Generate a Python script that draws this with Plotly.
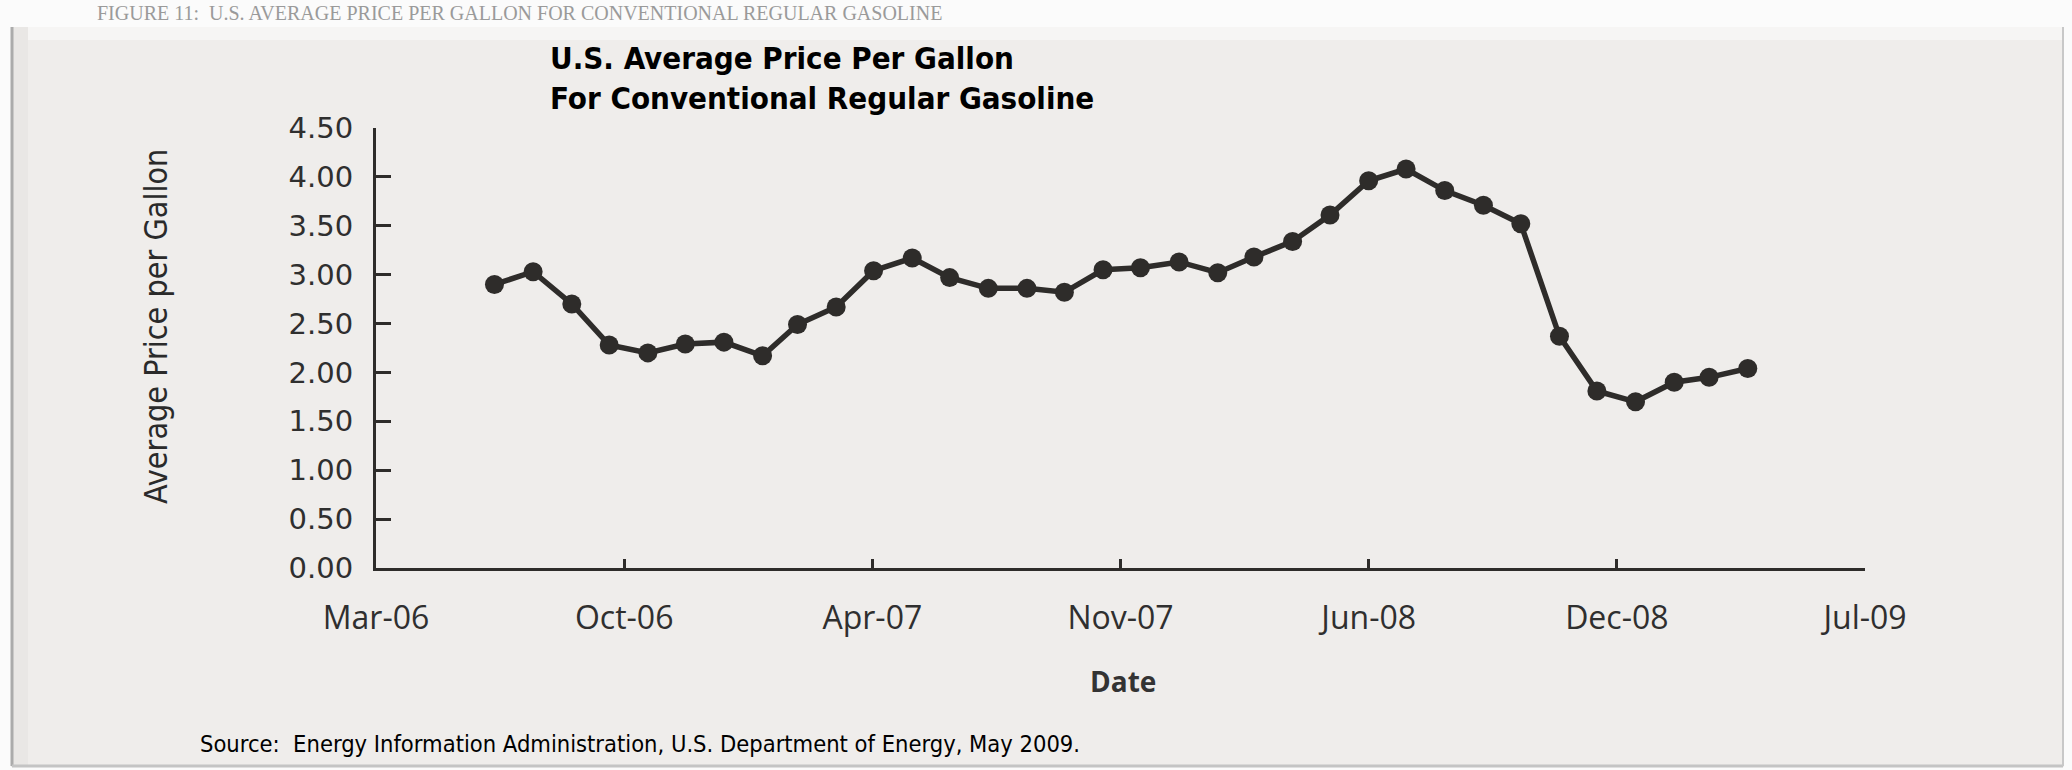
import plotly.graph_objects as go

# ---------------- data ----------------
months = [
    "2006-07-01", "2006-08-01", "2006-09-01", "2006-10-01", "2006-11-01", "2006-12-01",
    "2007-01-01", "2007-02-01", "2007-03-01", "2007-04-01", "2007-05-01", "2007-06-01",
    "2007-07-01", "2007-08-01", "2007-09-01", "2007-10-01", "2007-11-01", "2007-12-01",
    "2008-01-01", "2008-02-01", "2008-03-01", "2008-04-01", "2008-05-01", "2008-06-01",
    "2008-07-01", "2008-08-01", "2008-09-01", "2008-10-01", "2008-11-01", "2008-12-01",
    "2009-01-01", "2009-02-01", "2009-03-01", "2009-04-01",
]
prices = [
    2.90, 3.03, 2.70, 2.28, 2.20, 2.29,
    2.31, 2.17, 2.49, 2.67, 3.04, 3.17,
    2.97, 2.86, 2.86, 2.82, 3.05, 3.07,
    3.13, 3.02, 3.18, 3.34, 3.61, 3.96,
    4.08, 3.86, 3.71, 3.52, 2.37, 1.81,
    1.70, 1.90, 1.95, 2.04,
]
x_tick_dates = ["2006-03-28", "2006-10-13", "2007-04-30", "2007-11-15",
                "2008-06-01", "2008-12-17", "2009-07-04"]
x_tick_labels = ["Mar-06", "Oct-06", "Apr-07", "Nov-07", "Jun-08", "Dec-08", "Jul-09"]
y_tick_values = [0.0, 0.5, 1.0, 1.5, 2.0, 2.5, 3.0, 3.5, 4.0, 4.5]

title_text = "U.S. Average Price Per Gallon<br>For Conventional Regular Gasoline"
header_text = "FIGURE 11:  U.S. AVERAGE PRICE PER GALLON FOR CONVENTIONAL REGULAR GASOLINE"
y_title = "Average Price per Gallon"
x_title = "Date"
source_text = "Source:  Energy Information Administration, U.S. Department of Energy, May 2009."

# ---------------- layout geometry (pixels) ----------------
W, H = 2072, 770
L, R, T, B = 376, 1865, 128, 568


def px_x(x):
    return (x - L) / (R - L)


def px_y(y):
    return (B - y) / (B - T)


INK = "#2e2c2a"
BG = "#efedeb"
NARROW = "Liberation Sans Narrow, DejaVu Sans Condensed, Arial Narrow, sans-serif"

fig = go.Figure()
fig.add_trace(go.Scatter(
    x=months, y=prices, mode="lines+markers",
    line=dict(color=INK, width=5.5),
    marker=dict(color=INK, size=19, line=dict(width=0)),
    showlegend=False, hoverinfo="x+y",
))

fig.update_layout(
    width=W, height=H,
    margin=dict(l=L, r=W - R, t=T, b=H - B, pad=0),
    paper_bgcolor=BG, plot_bgcolor=BG,
    xaxis=dict(
        type="date", range=[x_tick_dates[0], x_tick_dates[-1]],
        tickmode="array", tickvals=x_tick_dates, ticktext=x_tick_labels,
        showgrid=False, zeroline=False,
        showline=True, linecolor=INK, linewidth=3,
        ticks="inside", ticklen=9, tickwidth=3, tickcolor=INK,
        tickfont=dict(family="Open Sans, sans-serif", size=32, color="#2f2f2f"),
        ticklabelstandoff=20,
    ),
    yaxis=dict(
        range=[0, 4.5], tickmode="array", tickvals=y_tick_values, tickformat=".2f",
        showgrid=False, zeroline=False,
        showline=True, linecolor=INK, linewidth=3,
        ticks="inside", ticklen=15, tickwidth=3, tickcolor=INK,
        tickfont=dict(family="DejaVu Sans, Verdana, sans-serif", size=29, color="#2f2f2f"),
        ticklabelstandoff=14,
    ),
)

annotations = [
    dict(text="<b>" + title_text + "</b>", xref="paper", yref="paper",
         x=px_x(548), y=px_y(78), xanchor="left", yanchor="middle", align="left",
         showarrow=False, font=dict(family=NARROW, size=31, color="#000000")),
    dict(text=y_title, xref="paper", yref="paper", textangle=-90,
         x=px_x(156), y=px_y(327), xanchor="center", yanchor="middle",
         showarrow=False, font=dict(family=NARROW, size=32, color="#2a2a2a")),
    dict(text="<b>" + x_title + "</b>", xref="paper", yref="paper",
         x=px_x(1123), y=px_y(681), xanchor="center", yanchor="middle",
         showarrow=False, font=dict(family="Open Sans, sans-serif", size=28, color="#333333")),
    dict(text=source_text, xref="paper", yref="paper",
         x=px_x(198), y=px_y(744), xanchor="left", yanchor="middle",
         showarrow=False, font=dict(family=NARROW, size=23.5, color="#000000")),
    dict(text=header_text, xref="paper", yref="paper",
         x=px_x(95), y=px_y(13), xanchor="left", yanchor="middle",
         showarrow=False, font=dict(family="Liberation Serif, serif", size=20, color="#9a9a9a")),
]
fig.update_layout(annotations=annotations)

shapes = [
    # white top band
    dict(type="rect", xref="paper", yref="paper", x0=px_x(0), x1=px_x(W), y0=px_y(0), y1=px_y(27),
         fillcolor="#fbfbfb", line=dict(width=0), layer="below"),
    dict(type="rect", xref="paper", yref="paper", x0=px_x(12), x1=px_x(2062), y0=px_y(27), y1=px_y(40),
         fillcolor="#f6f5f4", line=dict(width=0), layer="below"),
    # white left strip
    dict(type="rect", xref="paper", yref="paper", x0=px_x(0), x1=px_x(11), y0=px_y(0), y1=px_y(H),
         fillcolor="#fbfbfb", line=dict(width=0), layer="below"),
    # left bevel
    dict(type="rect", xref="paper", yref="paper", x0=px_x(13), x1=px_x(28), y0=px_y(27), y1=px_y(765),
         fillcolor="#e9e7e5", line=dict(width=0), layer="below"),
    # frame lines
    dict(type="line", xref="paper", yref="paper", x0=px_x(12), x1=px_x(12), y0=px_y(27), y1=px_y(766),
         line=dict(color="#ababab", width=3)),
    dict(type="line", xref="paper", yref="paper", x0=px_x(12), x1=px_x(2063), y0=px_y(766), y1=px_y(766),
         line=dict(color="#c4c4c4", width=3)),
    dict(type="line", xref="paper", yref="paper", x0=px_x(2063), x1=px_x(2063), y0=px_y(27), y1=px_y(766),
         line=dict(color="#c8c8c8", width=2)),
    # right / bottom white outside the frame
    dict(type="rect", xref="paper", yref="paper", x0=px_x(2064), x1=px_x(W), y0=px_y(0), y1=px_y(H),
         fillcolor="#fbfbfb", line=dict(width=0), layer="below"),
    dict(type="rect", xref="paper", yref="paper", x0=px_x(0), x1=px_x(W), y0=px_y(767), y1=px_y(H),
         fillcolor="#fbfbfb", line=dict(width=0), layer="below"),
]
fig.update_layout(shapes=shapes)

fig.write_html("out.html")
